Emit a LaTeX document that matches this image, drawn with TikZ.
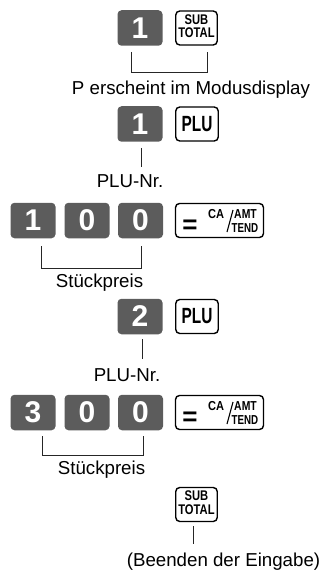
\documentclass[tikz,border=0pt]{standalone}
\usepackage{fontspec}
\setmainfont{Liberation Sans}
\usepackage{xcolor}
\usetikzlibrary{calc, positioning}

\definecolor{keygray}{RGB}{92,92,92}
% schmale (kondensierte) Tastenbeschriftung
\newcommand{\cond}[2]{\scalebox{#1}[1]{#2}}

\begin{document}
\begin{tikzpicture}[
                  x = 1pt, y = -1pt,
                  font    = \fontsize{18.7}{22}\selectfont,
                  gkey/.style = {rectangle, rounded corners=4pt, fill=keygray, text=white, inner sep=0pt,
                                 minimum width=45pt, minimum height=35.5pt, font=\fontsize{30}{30}\selectfont\bfseries},
                  wkey/.style = {rectangle, rounded corners=4pt, draw=black, line width=1.4pt, fill=white,
                                 inner sep=0pt, minimum height=34pt},
                  subkey/.style = {wkey, minimum width=41.5pt, font=\fontsize{14}{12}\selectfont\bfseries},
                  plukey/.style = {wkey, minimum width=42.5pt, font=\fontsize{22}{22}\selectfont\bfseries},
                  cakey/.style  = {wkey, minimum width=88pt},
                  klbl/.style = {inner sep=0pt, anchor=base, font=\fontsize{13}{13}\selectfont\bfseries},
                  eqlbl/.style = {inner sep=0pt, font=\fontsize{26}{26}\selectfont\bfseries},
                  lbl/.style  = {inner sep=0pt, anchor=base},
                  brk/.style  = {line width=1pt, black!85}
            ]
            \useasboundingbox (0,0) rectangle (323,572);

            % schritt 1: modus P
            \node[gkey]   (k1)   at (140,28)    {1};
            \node[subkey] (sub1) at (196.5,28)  {\cond{0.8}{\begin{tabular}{@{}c@{}}SUB\\TOTAL\end{tabular}}};
            \coordinate (b1l) at (131,52);
            \coordinate (b1r) at (207,52);
            \draw[brk] (b1l) |- (207,73) -- (b1r);
            \node[lbl] (t1) at (191,95) {P erscheint im Modusdisplay};

            % schritt 2: PLU 1
            \node[gkey]   (k2)   at (140,124)   {1};
            \node[plukey] (plu1) at (197,124)   {\cond{0.7}{PLU}};
            \node[lbl] (nr1) at (130,187) {PLU-Nr.};
            \draw[brk] ($(k2.south)+(1,6)$) -- ($(nr1.north)+(11,-7)$);

            % stueckpreis 100
            \node[gkey] (k31) at (33,220.5)    {1};
            \node[gkey] (k32) at (87,220.5)    {0};
            \node[gkey] (k33) at (140.5,220.5) {0};
            \node[cakey] (ca1) at (219.5,220.5) {};
            \node[eqlbl] (eq1) at ($(ca1.center)+(-29.5,6)$) {=};
            \node[klbl] (cs1) at ($(ca1.center)+(-3.5,-2.5)$)  {\cond{0.85}{CA}};
            \node[klbl] (am1) at ($(ca1.center)+(26,-2.5)$)  {\cond{0.8}{AMT}};
            \node[klbl] (te1) at ($(ca1.center)+(25.5,11.5)$) {\cond{0.75}{TEND}};
            \draw[line width=1.1pt] ($(ca1.center)+(13.5,-10.5)$) -- ($(ca1.center)+(7.5,11.5)$);
            \coordinate (b3l) at (41,246);
            \coordinate (b3r) at (141,246);
            \draw[brk] (b3l) |- (141,268) -- (b3r);
            \node[lbl] (sp1) at (99.5,287) {Stückpreis};

            % schritt 3: PLU 2
            \node[gkey]   (k4)   at (140,316.5) {2};
            \node[plukey] (plu2) at (197,316.5) {\cond{0.7}{PLU}};
            \node[lbl] (nr2) at (127,381) {PLU-Nr.};
            \draw[brk] ($(k4.south)+(2,5)$) -- ($(nr2.north)+(15,-9)$);

            % stueckpreis 300
            \node[gkey] (k51) at (33,412.5)    {3};
            \node[gkey] (k52) at (87,412.5)    {0};
            \node[gkey] (k53) at (140.5,412.5) {0};
            \node[cakey] (ca2) at (219.5,412.5) {};
            \node[eqlbl] (eq2) at ($(ca2.center)+(-29.5,6)$) {=};
            \node[klbl] (cs2) at ($(ca2.center)+(-3.5,-2.5)$)  {\cond{0.85}{CA}};
            \node[klbl] (am2) at ($(ca2.center)+(26,-2.5)$)  {\cond{0.8}{AMT}};
            \node[klbl] (te2) at ($(ca2.center)+(25.5,11.5)$) {\cond{0.75}{TEND}};
            \draw[line width=1.1pt] ($(ca2.center)+(13.5,-10.5)$) -- ($(ca2.center)+(7.5,11.5)$);
            \coordinate (b5l) at (42,436);
            \coordinate (b5r) at (143,436);
            \draw[brk] (b5l) |- (143,455) -- (b5r);
            \node[lbl] (sp2) at (101.5,474) {Stückpreis};

            % abschluss
            \node[subkey] (sub2) at (196.5,504.5) {\cond{0.8}{\begin{tabular}{@{}c@{}}SUB\\TOTAL\end{tabular}}};
            \node[lbl] (end) at (223.5,566) {(Beenden der Eingabe)};
            \draw[brk] ($(sub2.south)+(-3.5,4)$) -- ($(end.north)+(-30.5,-8)$);
      \end{tikzpicture}
\end{document}
